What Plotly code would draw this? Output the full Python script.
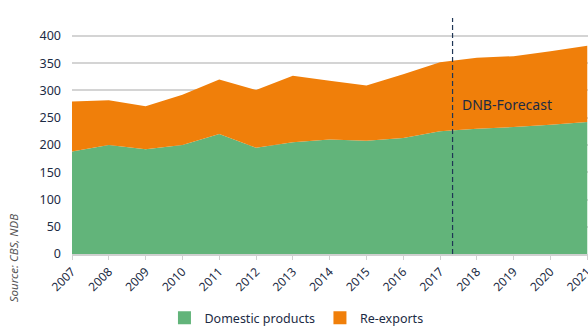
import plotly.graph_objects as go

years = list(range(2007, 2022))
domestic = [188, 200, 192, 200, 220, 195, 205, 210, 208, 213, 225, 230, 233, 237, 242]
reexports = [92, 82, 79, 92, 100, 106, 122, 108, 101, 117, 127, 130, 130, 135, 140]
y_ticks = [0, 50, 100, 150, 200, 250, 300, 350, 400]
forecast_x = 2017.34
forecast_label = "DNB-Forecast"
source_label = "Source: CBS, NDB"

GREEN = "#62b47a"
ORANGE = "#f07f0a"
NAVY = "#1c2b44"
FONT = "Noto Sans"

fig = go.Figure()
fig.add_trace(go.Scatter(x=years, y=domestic, stackgroup="one", mode="none",
                         fillcolor=GREEN, name="Domestic products", showlegend=False))
fig.add_trace(go.Scatter(x=years, y=reexports, stackgroup="one", mode="none",
                         fillcolor=ORANGE, name="Re-exports", showlegend=False))
# legend entries
fig.add_trace(go.Scatter(x=[None], y=[None], mode="markers", name="Domestic products",
                         marker=dict(symbol="square", size=13, color=GREEN)))
fig.add_trace(go.Scatter(x=[None], y=[None], mode="markers", name="Re-exports",
                         marker=dict(symbol="square", size=13, color=ORANGE)))

fig.add_shape(type="line", x0=forecast_x, x1=forecast_x, y0=0, y1=1, yref="paper",
              line=dict(color="#1f3656", width=1.2, dash="5px,3px"), layer="above")
fig.add_annotation(x=forecast_x, y=275, text=forecast_label, showarrow=False,
                   xanchor="left", xshift=7, font=dict(family=FONT, size=14, color=NAVY))
fig.add_annotation(x=-0.114, y=-0.017, xref="paper", yref="paper", text="<i>" + source_label + "</i>",
                   xanchor="center", yanchor="middle",
                   showarrow=False, textangle=-90, font=dict(family=FONT, size=11.5, color="#555555"))

fig.update_layout(
    width=588, height=333,
    margin=dict(l=72, r=0, t=18, b=79),
    paper_bgcolor="white", plot_bgcolor="white",
    font=dict(family=FONT, size=12, color=NAVY),
    showlegend=True,
    legend=dict(orientation="h", x=0.435, xanchor="center", y=0, yanchor="bottom",
                yref="container",
                font=dict(family=FONT, size=12.5, color=NAVY),
                itemwidth=30, traceorder="normal"),
    xaxis=dict(range=[2007, 2021.02], tickmode="array", tickvals=years, ticktext=[str(y) for y in years],
               tickangle=-45, showgrid=False, showline=True, linecolor="#d0d0d0", linewidth=2,
               ticks="outside", ticklen=4, tickcolor="#d0d0d0", tickfont=dict(size=12),
               ticklabeloverflow="allow", automargin=False),
    yaxis=dict(range=[0, 433], tickvals=y_ticks, showgrid=True, gridcolor="#d4d4d4", gridwidth=2,
               zeroline=False, ticks="", tickfont=dict(size=12.5), ticklabelstandoff=10,
               automargin=False),
)

fig.write_html("out.html")
